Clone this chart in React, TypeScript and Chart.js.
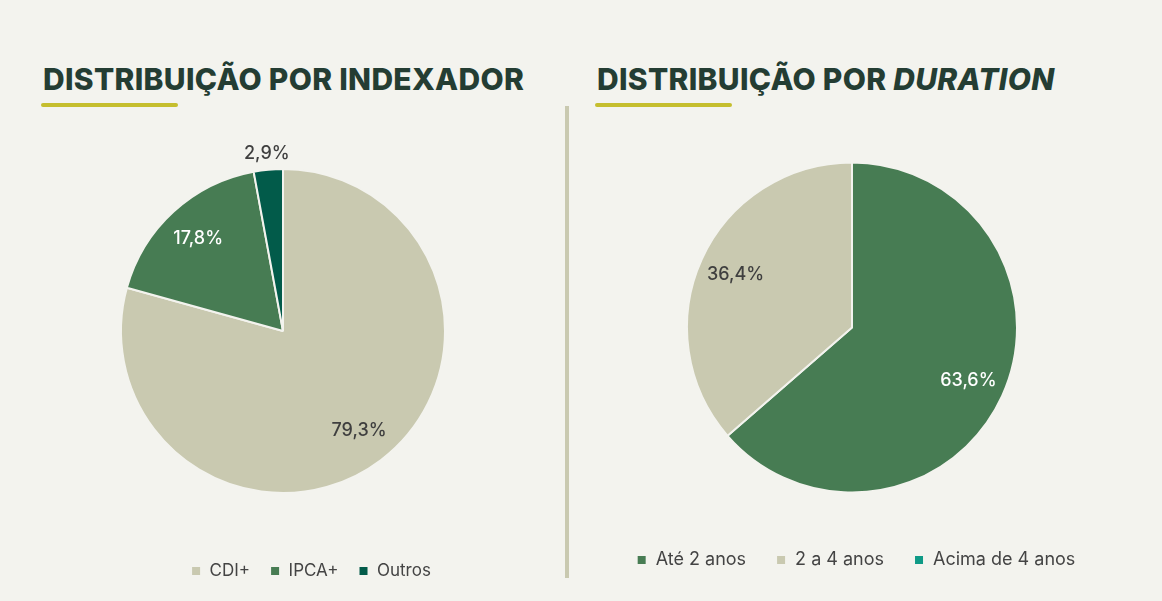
import React, { useEffect, useRef } from "react";
import { Chart, registerables } from "chart.js";

Chart.register(...registerables);

// Indexer split
const indexLabels = ["CDI+", "IPCA+", "Outros"];
const indexValues = [79.3, 17.8, 2.9];
const indexColors = ["#C9C9B0", "#477C53", "#025B4A"];
const indexTextColors = ["#3F3F3F", "#FFFFFF", "#3F3F3F"];

// Duration split
const durationLabels = ["Até 2 anos", "2 a 4 anos", "Acima de 4 anos"];
const durationValues = [63.6, 36.4, 0];
const durationColors = ["#477C53", "#C9C9B0", "#0E9A86"];
const durationTextColors = ["#FFFFFF", "#3F3F3F", "#FFFFFF"];

const BG = "#F3F3EE";
const FONT = "Inter, 'Noto Sans', sans-serif";

// Percent labels on each slice; thin slices get theirs outside the rim.
const sliceLabels = {
  id: "sliceLabels",
  afterDatasetsDraw(chart: any, _args: any, opts: any) {
    const ctx = chart.ctx;
    const meta = chart.getDatasetMeta(0);
    const values = chart.data.datasets[0].data as number[];
    ctx.save();
    ctx.font = `500 ${opts.size || 17}px ${FONT}`;
    ctx.textAlign = "center";
    ctx.textBaseline = "middle";
    meta.data.forEach((arc: any, i: number) => {
      const v = values[i];
      if (!v) return;
      const { x, y, startAngle, endAngle, outerRadius } = arc.getProps(
        ["x", "y", "startAngle", "endAngle", "outerRadius"],
        true
      );
      const mid = (startAngle + endAngle) / 2;
      const small = v < 5;
      const r = outerRadius * (small ? 1.1 : 0.775);
      ctx.fillStyle = small ? "#3F3F3F" : opts.colors[i];
      const text = v.toFixed(1).replace(".", ",") + "%";
      ctx.fillText(text, x + Math.cos(mid) * r, y + Math.sin(mid) * r);
    });
    ctx.restore();
  },
};

// Places the legend row at a fixed point (canvas coordinates) under the pie.
const legendPlace = {
  id: "legendPlace",
  afterLayout(chart: any, _args: any, opts: any) {
    const lg = chart.legend;
    if (!lg || opts.x == null) return;
    const dx = opts.x - (lg.left + lg.right) / 2;
    lg.left += dx;
    lg.right += dx;
    const pad = lg.options.labels.padding;
    const size = lg.options.labels.font.size;
    const h = lg.height;
    lg.top = opts.y - pad - size / 2;
    lg.bottom = lg.top + h;
  },
};

function PieChart(props: {
  labels: string[];
  values: number[];
  colors: string[];
  textColors: string[];
  radius: number;
  padTop: number;
  padBottom: number;
  legendX: number;
  legendY: number;
  legendGap: number;
  legendSize: number;
}) {
  const ref = useRef<HTMLCanvasElement>(null);
  useEffect(() => {
    if (!ref.current) return;
    const chart = new Chart(ref.current, {
      type: "pie",
      data: {
        labels: props.labels,
        datasets: [
          {
            data: props.values,
            backgroundColor: props.colors,
            borderColor: BG,
            borderWidth: 2,
          },
        ],
      },
      plugins: [sliceLabels, legendPlace],
      options: {
        animation: false,
        responsive: false,
        radius: props.radius,
        layout: { padding: { top: props.padTop, bottom: props.padBottom } },
        plugins: {
          tooltip: { enabled: false },
          legend: {
            position: "bottom",
            labels: {
              boxWidth: 10,
              boxHeight: 10,
              padding: props.legendGap,
              color: "#444444",
              font: { family: FONT, size: props.legendSize, weight: "400" },
            },
          },
          sliceLabels: { colors: props.textColors, size: 18 },
          legendPlace: { x: props.legendX, y: props.legendY },
        } as any,
      } as any,
    });
    return () => chart.destroy();
  }, []);
  return <canvas ref={ref} width={564} height={601} style={{ display: "block" }} />;
}

function Heading(props: { left: number; children: React.ReactNode }) {
  return (
    <>
      <div
        style={{
          position: "absolute",
          left: props.left,
          top: 64,
          fontFamily: FONT,
          fontWeight: 800,
          fontSize: 30,
          letterSpacing: 0.3,
          lineHeight: 1,
          color: "#243D33",
          whiteSpace: "nowrap",
        }}
      >
        {props.children}
      </div>
      <div
        style={{
          position: "absolute",
          left: props.left - 2,
          top: 103,
          width: 137,
          height: 4,
          borderRadius: 2,
          background: "#C5BE2E",
        }}
      />
    </>
  );
}

export default function App() {
  return (
    <div
      style={{
        position: "fixed",
        left: 0,
        top: 0,
        width: 1162,
        height: 601,
        background: BG,
        overflow: "hidden",
      }}
    >
      <Heading left={43}>DISTRIBUIÇÃO POR INDEXADOR</Heading>
      <Heading left={597}>
        DISTRIBUIÇÃO POR <i>DURATION</i>
      </Heading>
      <div
        style={{
          position: "absolute",
          left: 565,
          top: 106,
          width: 4,
          height: 472,
          background: "#C9C9B0",
        }}
      />
      <div style={{ position: "absolute", left: 1, top: 0 }}>
        <PieChart
          labels={indexLabels}
          values={indexValues}
          colors={indexColors}
          textColors={indexTextColors}
          radius={162}
          padTop={130}
          padBottom={22}
          legendX={310}
          legendY={571}
          legendGap={20}
          legendSize={17}
        />
      </div>
      <div style={{ position: "absolute", left: 570, top: 0 }}>
        <PieChart
          labels={durationLabels}
          values={durationValues}
          colors={durationColors}
          textColors={durationTextColors}
          radius={165}
          padTop={140}
          padBottom={28}
          legendX={286}
          legendY={560}
          legendGap={30}
          legendSize={18}
        />
      </div>
    </div>
  );
}
